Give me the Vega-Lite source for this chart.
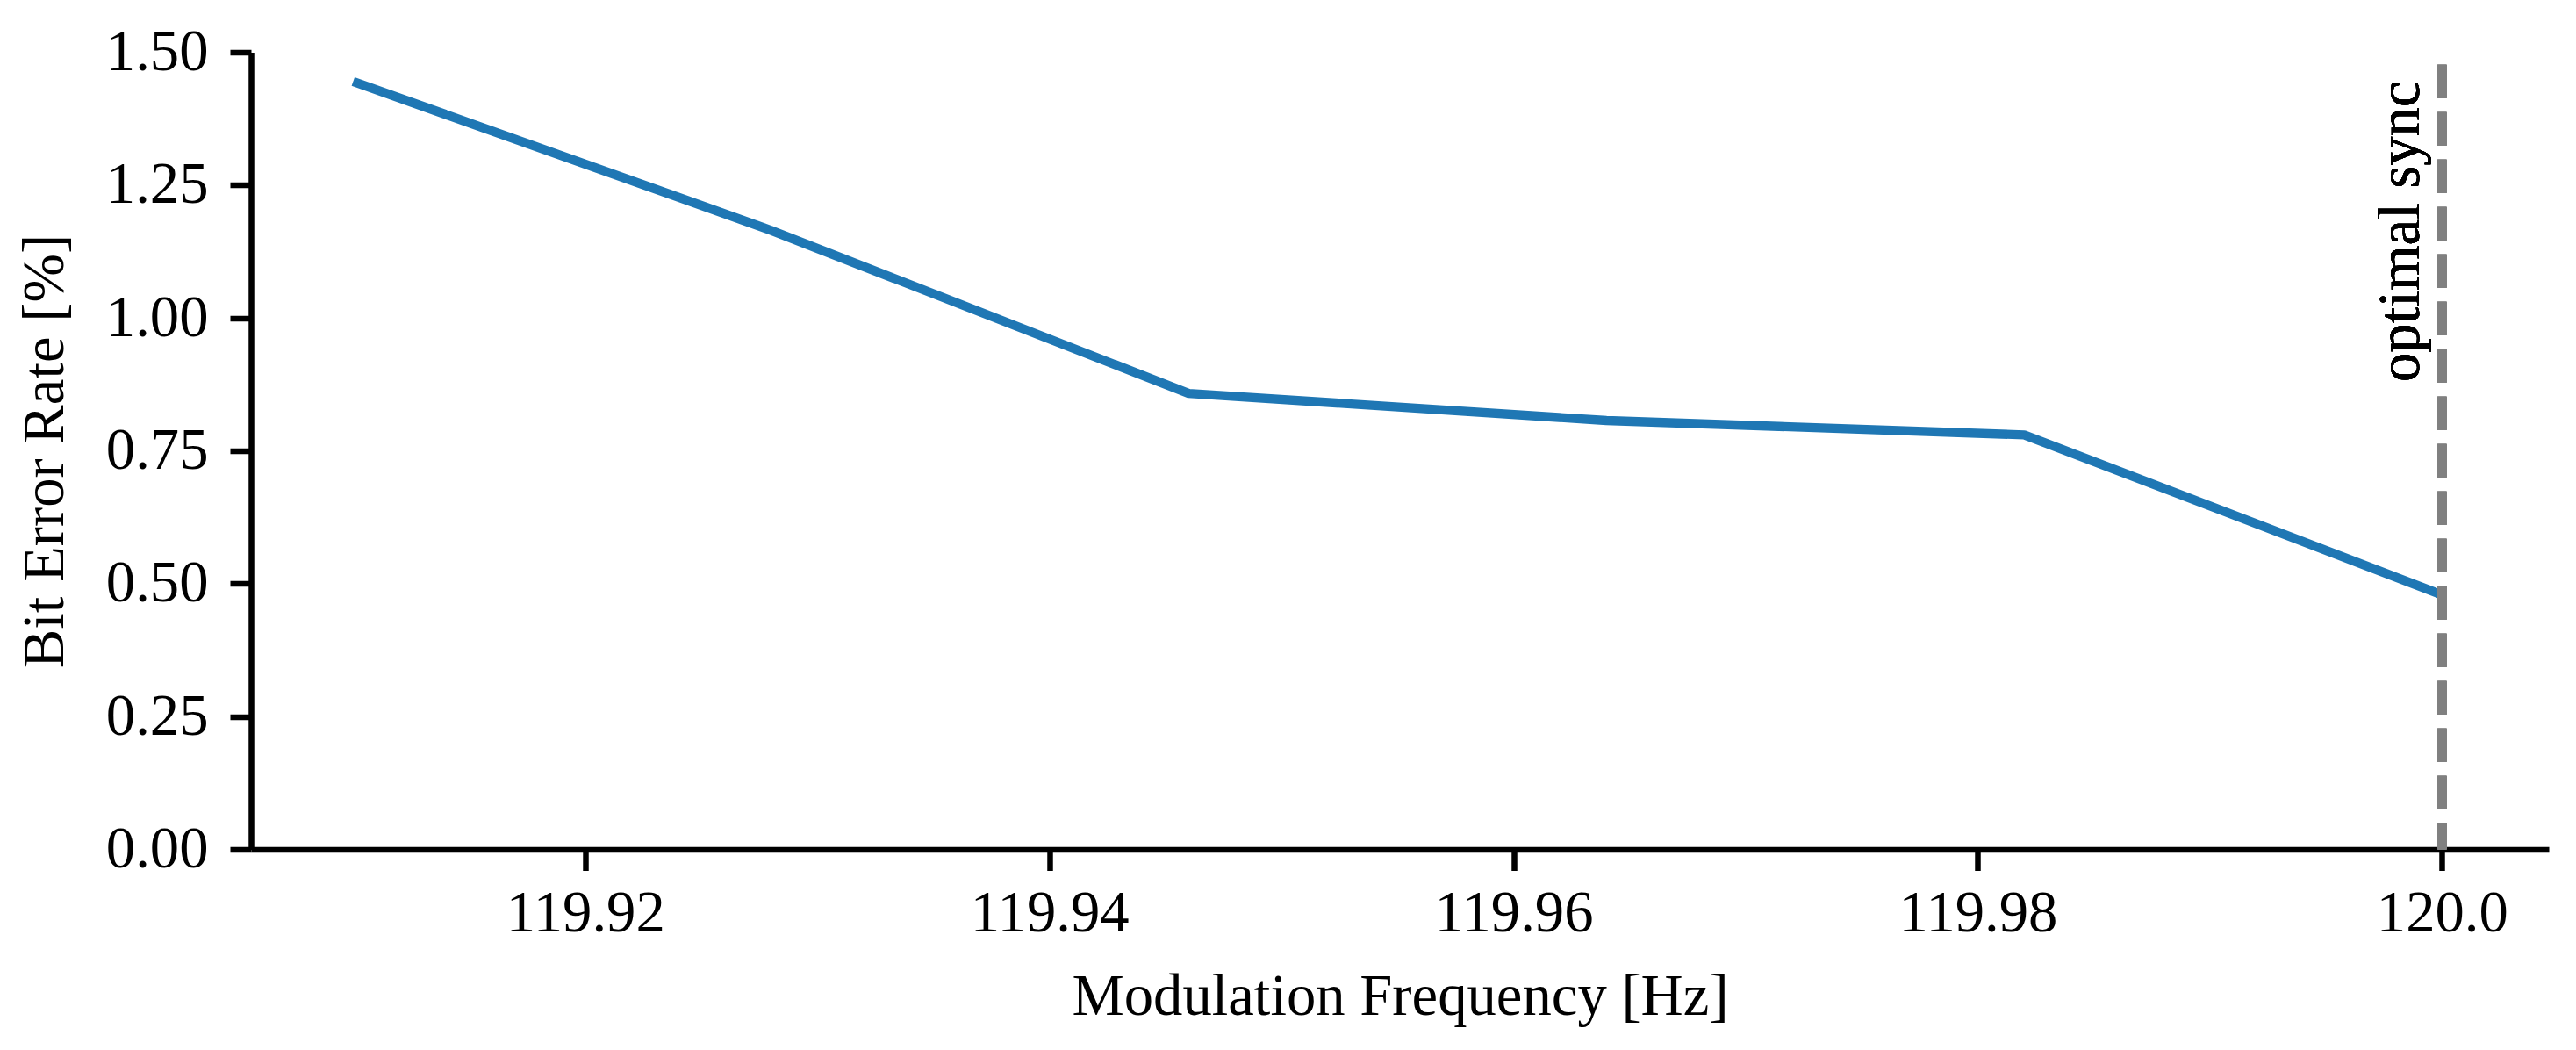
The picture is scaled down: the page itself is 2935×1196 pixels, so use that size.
{
  "$schema": "https://vega.github.io/schema/vega-lite/v6.json",
  "autosize": {"type": "none"},
  "padding": {"left": 286, "top": 59.5, "right": 31, "bottom": 228.5},
  "width": 2618,
  "height": 908,
  "background": "white",
  "config": {
    "view": {"stroke": null},
    "font": "Liberation Serif",
    "axis": {
      "grid": false,
      "domainColor": "black",
      "domainWidth": 6.5,
      "tickColor": "black",
      "tickWidth": 6.5,
      "tickSize": 24,
      "labelFont": "Liberation Serif",
      "labelFontSize": 66.7,
      "labelColor": "black",
      "labelLimit": 0,
      "titleFont": "Liberation Serif",
      "titleFontSize": 66.7,
      "titleFontWeight": "normal",
      "titleColor": "black",
      "titleLimit": 0
    }
  },
  "data": {
    "values": [
      {"freq": 119.91, "ber": 1.445},
      {"freq": 119.928, "ber": 1.165},
      {"freq": 119.946, "ber": 0.858},
      {"freq": 119.964, "ber": 0.807},
      {"freq": 119.982, "ber": 0.780},
      {"freq": 120.0, "ber": 0.479}
    ]
  },
  "layer": [
    {
      "mark": {"type": "line", "color": "#1f77b4", "strokeWidth": 10.4, "strokeCap": "butt", "strokeJoin": "round", "clip": true},
      "encoding": {
        "x": {
          "field": "freq", "type": "quantitative",
          "scale": {"domain": [119.9056, 120.0046], "nice": false, "zero": false},
          "axis": {
            "title": "Modulation Frequency [Hz]",
            "values": [119.92, 119.94, 119.96, 119.98, 120.0],
            "labelExpr": "datum.value >= 119.999 ? '120.0' : format(datum.value, '.2f')",
            "labelPadding": 16,
            "labelFlush": false,
            "labelOverlap": false,
            "titleBaseline": "alphabetic",
            "titleY": 187.5,
            "titleX": 1309
          }
        },
        "y": {
          "field": "ber", "type": "quantitative",
          "scale": {"domain": [0, 1.5], "nice": false, "zero": true},
          "axis": {
            "title": "Bit Error Rate [%]",
            "values": [0, 0.25, 0.5, 0.75, 1.0, 1.25, 1.5],
            "format": ".2f",
            "labelPadding": 25,
            "labelFlush": false,
            "labelOverlap": false,
            "titleBaseline": "alphabetic",
            "titleX": -215,
            "titleY": 454
          }
        }
      }
    },
    {
      "mark": {"type": "rule", "color": "#808080", "strokeWidth": 10.4, "strokeDash": [38, 16], "strokeDashOffset": 39.8},
      "encoding": {
        "x": {"datum": 120.0, "type": "quantitative"},
        "y": {"datum": 1.5, "type": "quantitative"},
        "y2": {"datum": 0}
      }
    },
    {
      "mark": {"type": "text", "text": "optimal sync", "angle": 270, "align": "right", "baseline": "alphabetic", "dy": -26.5, "font": "Liberation Serif", "fontSize": 66.7, "color": "black"},
      "encoding": {
        "x": {"datum": 120.0, "type": "quantitative"},
        "y": {"datum": 1.4456, "type": "quantitative"}
      }
    }
  ]
}
